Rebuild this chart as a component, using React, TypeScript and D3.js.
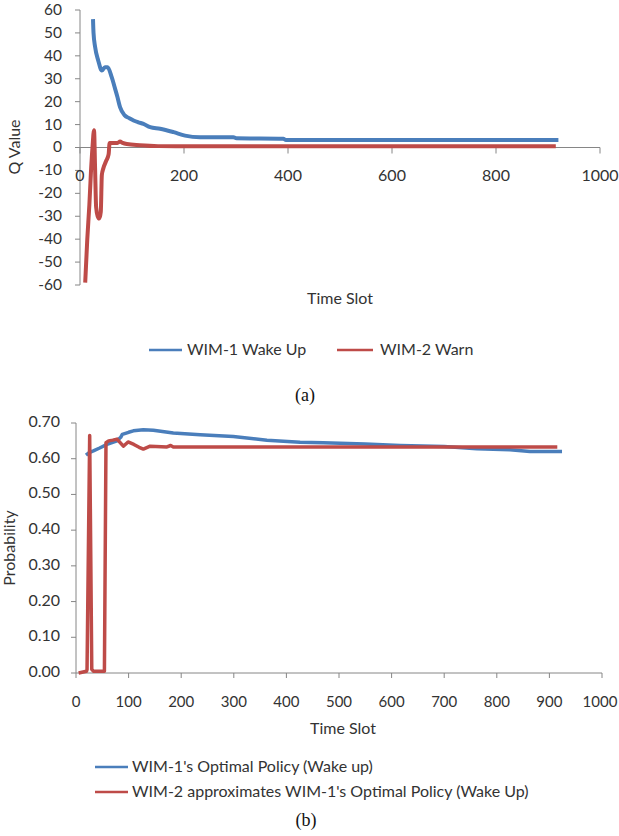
import React from "react";
import { scaleLinear, line, curveMonotoneX, curveLinear } from "d3";

// ---- (a) Q value data ----
const wakeTime = [25, 26, 29, 35, 42, 48, 53, 61, 67, 72, 77, 86, 95, 103, 112, 122, 135, 154, 180, 202, 231, 295, 301, 391, 396, 600, 920];
const wakeQ = [56, 50, 44, 38, 33.6, 35, 35, 30.7, 26, 22, 17.6, 14, 12.8, 11.8, 11, 10.3, 8.9, 8.2, 6.7, 5.2, 4.5, 4.5, 4, 3.8, 3.3, 3.3, 3.3];

const warnTime = [10, 14, 18, 21, 24, 27, 29, 31, 34, 37, 40, 42, 45, 50, 55, 57, 65, 72, 77, 82, 90, 115, 150, 200, 400, 600, 800, 915];
const warnQ = [-59, -40, -25, -11, 0, 7.5, -9, -26, -30, -31, -28, -12, -9, -6, -3, 2, 2, 2, 2.6, 2, 1.5, 1, 0.6, 0.5, 0.5, 0.5, 0.5, 0.5];

const qTicks = [60, 50, 40, 30, 20, 10, 0, -10, -20, -30, -40, -50, -60];
const topXTicks = [0, 200, 400, 600, 800, 1000];

// ---- (b) probability data ----
const policyTime = [19, 25, 33, 45, 59, 78, 85, 88, 100, 109, 128, 147, 185, 236, 299, 363, 426, 470, 550, 616, 700, 762, 825, 863, 924];
const policyProb = [0.61, 0.617, 0.622, 0.63, 0.64, 0.65, 0.66, 0.668, 0.674, 0.678, 0.681, 0.68, 0.672, 0.667, 0.662, 0.652, 0.646, 0.645, 0.641, 0.637, 0.634, 0.628, 0.625, 0.62, 0.62];

const approxTime = [5, 20, 21, 26, 30, 33, 54, 57, 62, 70, 78, 84, 90, 99, 110, 120, 128, 141, 173, 180, 185, 200, 400, 600, 800, 915];
const approxProb = [0, 0.005, 0.01, 0.665, 0.01, 0.005, 0.005, 0.645, 0.65, 0.652, 0.655, 0.645, 0.635, 0.647, 0.64, 0.632, 0.627, 0.635, 0.633, 0.637, 0.633, 0.633, 0.633, 0.633, 0.633, 0.633];

const probTicks = [0.7, 0.6, 0.5, 0.4, 0.3, 0.2, 0.1, 0];
const bottomXTicks = [0, 100, 200, 300, 400, 500, 600, 700, 800, 900, 1000];

const BLUE = "#4A7EBB";
const RED = "#BE4B48";
const AXIS = "#868686";
const TXT = "#333";
const FONT = "Lato, 'Open Sans', sans-serif";

export default function App() {
  // scales for chart (a)
  const xTop = scaleLinear().domain([0, 1000]).range([80, 600]);
  const yTop = scaleLinear().domain([-60, 60]).range([285, 10]);
  // scales for chart (b)
  const xBot = scaleLinear().domain([0, 1000]).range([76, 602]);
  const yBot = scaleLinear().domain([0, 0.7]).range([673, 423]);

  const wakePath = line<number>()
    .x((d) => xTop(d))
    .y((_, i) => yTop(wakeQ[i]))
    .curve(curveMonotoneX)(wakeTime);
  const warnPath = line<number>()
    .x((d) => xTop(d))
    .y((_, i) => yTop(warnQ[i]))
    .curve(curveMonotoneX)(warnTime);

  const policyPath = line<number>()
    .x((d) => xBot(d))
    .y((_, i) => yBot(policyProb[i]))
    .curve(curveLinear)(policyTime);
  const approxPath = line<number>()
    .x((d) => xBot(d))
    .y((_, i) => yBot(approxProb[i]))
    .curve(curveLinear)(approxTime);

  return (
    <svg
      width={619}
      height={836}
      style={{ position: "absolute", left: 0, top: 0, background: "#fff" }}
      fontFamily={FONT}
    >
      {/* ---------- chart (a) ---------- */}
      <line x1={xTop(0)} x2={xTop(0)} y1={yTop(60)} y2={yTop(-60)} stroke={AXIS} />
      {qTicks.map((t) => (
        <g key={"qt" + t}>
          <line x1={xTop(0) - 5} x2={xTop(0)} y1={yTop(t)} y2={yTop(t)} stroke={AXIS} />
          <text x={62} y={yTop(t) + 1} textAnchor="end" dominantBaseline="middle" fontSize={15.5} fill={TXT}>
            {t}
          </text>
        </g>
      ))}
      <line x1={xTop(0)} x2={xTop(1000)} y1={yTop(0)} y2={yTop(0)} stroke={AXIS} />
      {topXTicks.map((t) => (
        <g key={"tx" + t}>
          <line x1={xTop(t)} x2={xTop(t)} y1={yTop(0)} y2={yTop(0) + 6} stroke={AXIS} />
          <text x={xTop(t)} y={177} textAnchor="middle" dominantBaseline="middle" fontSize={16} fill={TXT}>
            {t}
          </text>
        </g>
      ))}
      <path d={wakePath ?? ""} fill="none" stroke={BLUE} strokeWidth={4} strokeLinejoin="round" />
      <path d={warnPath ?? ""} fill="none" stroke={RED} strokeWidth={4} strokeLinejoin="round" />

      <text transform="translate(16,147) rotate(-90)" textAnchor="middle" dominantBaseline="middle" fontSize={16} fill={TXT}>
        Q Value
      </text>
      <text x={340} y={300} textAnchor="middle" dominantBaseline="middle" fontSize={16} fill={TXT}>
        Time Slot
      </text>

      {/* legend (a) */}
      <line x1={149} x2={182} y1={350} y2={350} stroke={BLUE} strokeWidth={2.5} />
      <text x={187} y={351} dominantBaseline="middle" fontSize={16} fill={TXT}>
        WIM-1 Wake Up
      </text>
      <line x1={337} x2={373} y1={350} y2={350} stroke={RED} strokeWidth={2.5} />
      <text x={380} y={351} dominantBaseline="middle" fontSize={16} fill={TXT}>
        WIM-2 Warn
      </text>

      <text x={305} y={397} textAnchor="middle" dominantBaseline="middle" fontSize={18} fontFamily="'Liberation Serif', serif" fill="#111">
        (a)
      </text>

      {/* ---------- chart (b) ---------- */}
      <line x1={xBot(0)} x2={xBot(0)} y1={yBot(0.7)} y2={yBot(0)} stroke={AXIS} />
      {probTicks.map((t) => (
        <g key={"pt" + t}>
          <line x1={xBot(0) - 5} x2={xBot(0)} y1={yBot(t)} y2={yBot(t)} stroke={AXIS} />
          <text x={60} y={yBot(t)} textAnchor="end" dominantBaseline="middle" fontSize={16} fill={TXT}>
            {t.toFixed(2)}
          </text>
        </g>
      ))}
      <line x1={xBot(0)} x2={xBot(1000)} y1={yBot(0)} y2={yBot(0)} stroke={AXIS} />
      {bottomXTicks.map((t) => (
        <g key={"bx" + t}>
          <line x1={xBot(t)} x2={xBot(t)} y1={yBot(0)} y2={yBot(0) + 5} stroke={AXIS} />
          <text x={t === 1000 ? 600 : xBot(t)} y={703} textAnchor="middle" dominantBaseline="middle" fontSize={15} fill={TXT}>
            {t}
          </text>
        </g>
      ))}
      <path d={policyPath ?? ""} fill="none" stroke={BLUE} strokeWidth={3.5} strokeLinejoin="round" />
      <path d={approxPath ?? ""} fill="none" stroke={RED} strokeWidth={3.5} strokeLinejoin="round" />

      <text transform="translate(11,548) rotate(-90)" textAnchor="middle" dominantBaseline="middle" fontSize={16} fill={TXT}>
        Probability
      </text>
      <text x={343} y={730} textAnchor="middle" dominantBaseline="middle" fontSize={16} fill={TXT}>
        Time Slot
      </text>

      {/* legend (b) */}
      <line x1={95} x2={128} y1={767} y2={767} stroke={BLUE} strokeWidth={2.5} />
      <text x={132} y={768} dominantBaseline="middle" fontSize={16} fill={TXT}>
        WIM-1's Optimal Policy (Wake up)
      </text>
      <line x1={95} x2={128} y1={792} y2={792} stroke={RED} strokeWidth={2.5} />
      <text x={132} y={793} dominantBaseline="middle" fontSize={16} fill={TXT}>
        WIM-2 approximates WIM-1's Optimal Policy (Wake Up)
      </text>

      <text x={306} y={822} textAnchor="middle" dominantBaseline="middle" fontSize={18} fontFamily="'Liberation Serif', serif" fill="#111">
        (b)
      </text>
    </svg>
  );
}
